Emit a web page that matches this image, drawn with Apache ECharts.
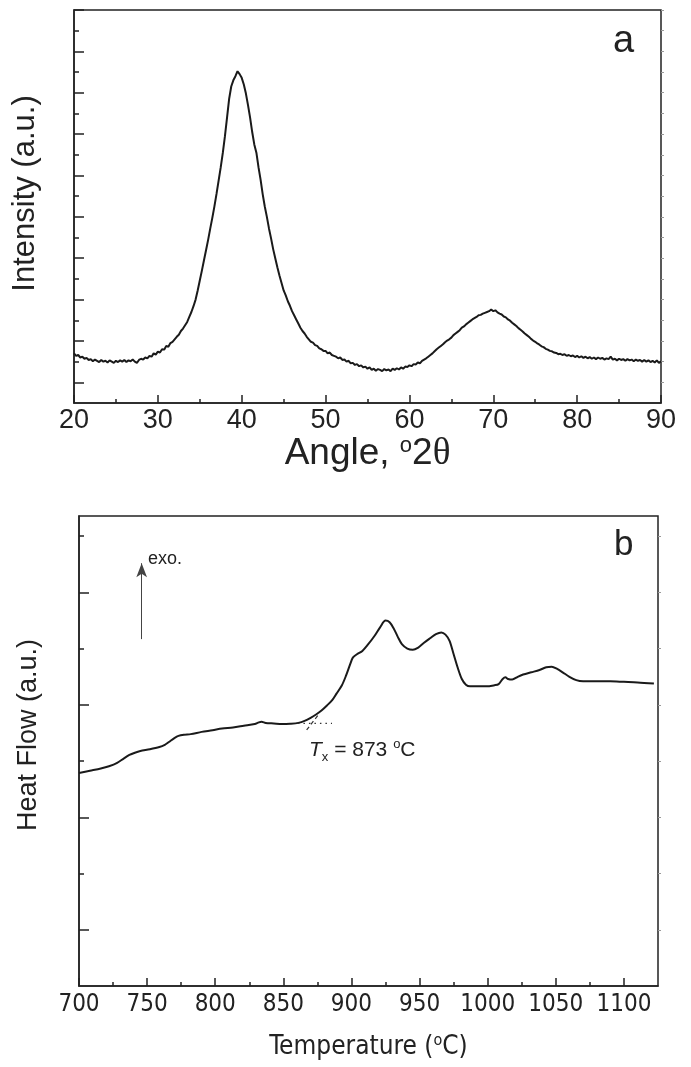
<!DOCTYPE html>
<html><head><meta charset="utf-8">
<script src="https://cdn.jsdelivr.net/npm/echarts@6/dist/echarts.min.js"></script>
<style>html,body{margin:0;padding:0;background:#fff}#c{width:691px;height:1067px}</style>
</head><body><div id="c"></div>
<script>
// ---------- panel a : XRD ----------
const angleTicks = [20, 30, 40, 50, 60, 70, 80, 90];
const angleMinorTicks = [25, 35, 45, 55, 65, 75, 85];
const intensityMajorTicks = [0, 1, 2, 3, 4, 5, 6, 7, 8, 9];
const intensityMinorTicks = [0.5, 1.5, 2.5, 3.5, 4.5, 5.5, 6.5, 7.5, 8.5];
const xrdPoints = [
[20.00,0.70],[20.25,0.64],[20.50,0.66],[20.75,0.60],[21.00,0.62],[21.25,0.57],[21.50,0.59],[21.75,0.54],
[22.00,0.56],[22.25,0.51],[22.50,0.55],[22.75,0.52],[23.00,0.49],[23.25,0.54],[23.50,0.50],[23.75,0.52],
[24.00,0.48],[24.25,0.53],[24.50,0.50],[24.75,0.47],[25.00,0.52],[25.25,0.49],[25.50,0.53],[25.75,0.50],
[26.00,0.54],[26.25,0.49],[26.50,0.53],[26.75,0.51],[27.00,0.55],[27.25,0.50],[27.50,0.47],[27.75,0.54],
[28.00,0.57],[28.25,0.55],[28.50,0.60],[28.75,0.58],[29.00,0.64],[29.25,0.62],[29.50,0.70],[29.75,0.67],
[30.00,0.74],[30.25,0.72],[30.50,0.80],[30.75,0.79],[31.00,0.88],[31.25,0.86],[31.50,0.95],[31.75,0.98],
[32.00,1.04],[32.25,1.10],[32.50,1.15],[32.75,1.24],[33.00,1.30],[33.25,1.38],[33.50,1.46],[33.75,1.58],
[34.00,1.70],[34.25,1.84],[34.50,2.00],[34.75,2.22],[35.00,2.46],[35.25,2.70],[35.50,2.95],[35.75,3.20],
[36.00,3.45],[36.25,3.72],[36.50,3.98],[36.75,4.26],[37.00,4.56],[37.25,4.88],[37.50,5.20],[37.75,5.55],
[38.00,5.95],[38.25,6.40],[38.50,6.85],[38.75,7.15],[39.00,7.30],[39.25,7.40],[39.50,7.52],[39.75,7.45],
[40.00,7.36],[40.25,7.20],[40.50,6.98],[40.75,6.70],[41.00,6.40],[41.25,6.05],[41.50,5.75],[41.75,5.55],
[42.00,5.20],[42.25,4.90],[42.50,4.55],[42.75,4.25],[43.00,4.00],[43.25,3.72],[43.50,3.48],[43.75,3.22],
[44.00,3.00],[44.25,2.78],[44.50,2.58],[44.75,2.40],[45.00,2.22],[45.25,2.10],[45.50,1.96],[45.75,1.85],
[46.00,1.72],[46.25,1.62],[46.50,1.52],[46.75,1.42],[47.00,1.32],[47.25,1.24],[47.50,1.18],[47.75,1.10],
[48.00,1.04],[48.25,0.98],[48.50,0.96],[48.75,0.90],[49.00,0.88],[49.25,0.82],[49.50,0.80],[49.75,0.76],
[50.00,0.76],[50.25,0.70],[50.50,0.72],[50.75,0.66],[51.00,0.64],[51.25,0.62],[51.50,0.58],[51.75,0.60],
[52.00,0.54],[52.25,0.55],[52.50,0.50],[52.75,0.52],[53.00,0.46],[53.25,0.47],[53.50,0.42],[53.75,0.44],
[54.00,0.39],[54.25,0.41],[54.50,0.36],[54.75,0.38],[55.00,0.33],[55.25,0.36],[55.50,0.30],[55.75,0.33],
[56.00,0.28],[56.25,0.32],[56.50,0.30],[56.75,0.27],[57.00,0.32],[57.25,0.29],[57.50,0.31],[57.75,0.27],
[58.00,0.33],[58.25,0.30],[58.50,0.34],[58.75,0.31],[59.00,0.36],[59.25,0.33],[59.50,0.38],[59.75,0.37],
[60.00,0.41],[60.25,0.39],[60.50,0.44],[60.75,0.43],[61.00,0.48],[61.25,0.46],[61.50,0.52],[61.75,0.55],
[62.00,0.58],[62.25,0.62],[62.50,0.66],[62.75,0.70],[63.00,0.75],[63.25,0.80],[63.50,0.84],[63.75,0.88],
[64.00,0.92],[64.25,0.97],[64.50,1.01],[64.75,1.04],[65.00,1.08],[65.25,1.14],[65.50,1.18],[65.75,1.22],
[66.00,1.26],[66.25,1.32],[66.50,1.35],[66.75,1.40],[67.00,1.44],[67.25,1.48],[67.50,1.52],[67.75,1.55],
[68.00,1.58],[68.25,1.62],[68.50,1.63],[68.75,1.66],[69.00,1.68],[69.25,1.70],[69.50,1.72],[69.75,1.76],
[70.00,1.72],[70.25,1.74],[70.50,1.69],[70.75,1.66],[71.00,1.64],[71.25,1.59],[71.50,1.57],[71.75,1.52],
[72.00,1.49],[72.25,1.44],[72.50,1.40],[72.75,1.36],[73.00,1.31],[73.25,1.27],[73.50,1.23],[73.75,1.18],
[74.00,1.14],[74.25,1.10],[74.50,1.05],[74.75,1.01],[75.00,0.98],[75.25,0.94],[75.50,0.91],[75.75,0.87],
[76.00,0.85],[76.25,0.81],[76.50,0.79],[76.75,0.76],[77.00,0.75],[77.25,0.72],[77.50,0.71],[77.75,0.68],
[78.00,0.69],[78.25,0.66],[78.50,0.68],[78.75,0.64],[79.00,0.66],[79.25,0.63],[79.50,0.65],[79.75,0.61],
[80.00,0.64],[80.25,0.60],[80.50,0.63],[80.75,0.59],[81.00,0.62],[81.25,0.58],[81.50,0.61],[81.75,0.57],
[82.00,0.60],[82.25,0.56],[82.50,0.60],[82.75,0.57],[83.00,0.59],[83.25,0.55],[83.50,0.58],[83.75,0.56],
[84.00,0.62],[84.25,0.55],[84.50,0.57],[84.75,0.53],[85.00,0.57],[85.25,0.54],[85.50,0.56],[85.75,0.52],
[86.00,0.56],[86.25,0.53],[86.50,0.55],[86.75,0.51],[87.00,0.55],[87.25,0.52],[87.50,0.54],[87.75,0.50],
[88.00,0.54],[88.25,0.50],[88.50,0.53],[88.75,0.49],[89.00,0.52],[89.25,0.48],[89.50,0.53],[89.75,0.47],
[90.00,0.51]
];

// ---------- panel b : DSC ----------
const tempTicks = [700, 750, 800, 850, 900, 950, 1000, 1050, 1100];
const tempMinorTicks = [725, 775, 825, 875, 925, 975, 1025, 1075];
const heatMajorTicks = [1, 3, 5, 7];
const heatMinorTicks = [2, 4, 6, 8];
const dscPoints = [
[700,3.79],[708,3.83],[716,3.87],[722,3.91],[728,3.97],[733,4.05],[737,4.11],[741,4.15],[745,4.18],
[752,4.21],[759,4.25],[763,4.29],[766,4.34],[770,4.41],[773,4.45],[777,4.47],[782,4.48],[790,4.52],
[798,4.55],[805,4.58],[813,4.60],[821,4.63],[829,4.66],[832,4.69],[834,4.70],[837,4.68],[843,4.67],
[849,4.66],[855,4.665],[861,4.68],[866,4.72],[870,4.77],[874,4.83],[878,4.90],[882,4.99],[886,5.09],
[889,5.20],[893,5.35],[896,5.52],[899,5.72],[901,5.84],[904,5.90],[908,5.96],[912,6.07],[917,6.23],
[921,6.38],[925,6.50],[928,6.47],[931,6.36],[934,6.21],[937,6.08],[941,6.00],[945,5.98],[949,6.02],
[953,6.10],[958,6.19],[962,6.26],[966,6.29],[969,6.25],[972,6.14],[975,5.90],[978,5.66],[981,5.46],
[984,5.36],[987,5.33],[993,5.33],[999,5.33],[1005,5.35],[1008,5.37],[1011,5.46],[1013,5.49],[1015,5.46],
[1018,5.45],[1022,5.50],[1026,5.54],[1032,5.58],[1038,5.62],[1043,5.67],[1047,5.68],[1051,5.64],
[1055,5.58],[1060,5.50],[1065,5.44],[1070,5.42],[1080,5.42],[1090,5.42],[1100,5.41],[1110,5.40],[1122,5.38]
];
const onsetBaseline = [[860.7, 4.67], [885.7, 4.67]];
const onsetTangent = [[867.1, 4.555], [875.6, 4.82]];
const exoArrow = [[746, 6.17], [746, 7.52]];

const FONT = 'Liberation Sans, Arial, Helvetica, sans-serif';
const NARROW = 'Liberation Sans Narrow, Arial Narrow, DejaVu Sans Condensed, Liberation Sans, sans-serif';
const INK = '#222';

function xAxes(grid, min, max, major, minor, name, nameGap, labelStyle, nameStyle) {
  return [{
    gridIndex: grid, type: 'value', min: min, max: max, position: 'bottom',
    axisLine: { show: true, onZero: false, lineStyle: { color: INK, width: 1.5 } },
    axisTick: { show: true, inside: true, length: 8, customValues: major, lineStyle: { color: INK, width: 1.5 } },
    axisLabel: Object.assign({ show: true, customValues: major, color: INK, formatter: function (v) { return String(v); } }, labelStyle),
    splitLine: { show: false },
    name: name, nameLocation: 'middle', nameGap: nameGap, nameTextStyle: nameStyle
  }, {
    gridIndex: grid, type: 'value', min: min, max: max, position: 'bottom',
    axisLine: { show: false, onZero: false },
    axisTick: { show: true, inside: true, length: 4, customValues: minor, lineStyle: { color: INK, width: 1.5 } },
    axisLabel: { show: false }, splitLine: { show: false }
  }];
}
function yAxes(grid, min, max, major, minor, name, nameGap, nameStyle) {
  return [{
    gridIndex: grid, type: 'value', min: min, max: max, position: 'left',
    axisLine: { show: true, onZero: false, lineStyle: { color: INK, width: 1.5 } },
    axisTick: { show: true, inside: true, length: 10, customValues: major, lineStyle: { color: INK, width: 1.5 } },
    axisLabel: { show: false }, splitLine: { show: false },
    name: name, nameLocation: 'middle', nameGap: nameGap, nameRotate: 90, nameTextStyle: nameStyle
  }, {
    gridIndex: grid, type: 'value', min: min, max: max, position: 'left',
    axisLine: { show: false, onZero: false },
    axisTick: { show: true, inside: true, length: 5, customValues: minor, lineStyle: { color: INK, width: 1.5 } },
    axisLabel: { show: false }, splitLine: { show: false }
  }, {
    gridIndex: grid, type: 'value', min: min, max: max, position: 'right',
    axisLine: { show: false, onZero: false },
    axisTick: { show: true, inside: false, length: 3, customValues: major.concat(minor), lineStyle: { color: '#999', width: 1 } },
    axisLabel: { show: false }, splitLine: { show: false }
  }];
}

const titleA = { fontSize: 37, fontFamily: FONT, color: INK, verticalAlign: 'top',
  rich: { sup: { fontSize: 22, fontFamily: FONT, color: INK, padding: [0, 0, 16, 0] },
          th: { fontSize: 37, fontFamily: 'Liberation Serif, DejaVu Serif, serif', color: INK } } };
const titleAy = { fontSize: 31, fontFamily: FONT, color: INK, padding: [0, 0, 0, 26] };
const titleB = { fontSize: 26, fontFamily: NARROW, color: INK,
  rich: { sup: { fontSize: 16, fontFamily: NARROW, color: INK, padding: [0, 0, 12, 0] } } };
const titleBy = { fontSize: 27, fontFamily: FONT, color: INK, padding: [0, 0, 0, 32] };

const chart = echarts.init(document.getElementById('c'), null, { renderer: 'canvas' });
chart.setOption({
  animation: false,
  backgroundColor: '#fff',
  grid: [
    { left: 74, right: 30, top: 10, height: 393, show: true, borderColor: INK, borderWidth: 1.5, backgroundColor: 'transparent' },
    { left: 79, right: 33, top: 516, height: 470, show: true, borderColor: INK, borderWidth: 1.5, backgroundColor: 'transparent' }
  ],
  xAxis: [].concat(
    xAxes(0, 20, 90, angleTicks, angleMinorTicks, 'Angle, {sup|o}2{th|θ}', 30,
      { fontSize: 27, fontFamily: FONT, margin: 4 }, titleA),
    xAxes(1, 700, 1125, tempTicks, tempMinorTicks, 'Temperature ({sup|o}C)', 47,
      { fontSize: 24, fontFamily: NARROW, margin: 7 }, titleB)
  ),
  yAxis: [].concat(
    yAxes(0, -0.5, 9, intensityMajorTicks, intensityMinorTicks, 'Intensity (a.u.)', 33, titleAy),
    yAxes(1, 0, 8.36, heatMajorTicks, heatMinorTicks, 'Heat Flow (a.u.)', 37, titleBy)
  ),
  series: [
    { type: 'line', xAxisIndex: 0, yAxisIndex: 0, data: xrdPoints, showSymbol: false,
      lineStyle: { color: '#1a1a1a', width: 2 }, silent: true },
    { type: 'line', xAxisIndex: 2, yAxisIndex: 3, data: dscPoints, showSymbol: false, smooth: 0.3,
      lineStyle: { color: '#1a1a1a', width: 2 }, silent: true,
      markLine: { silent: true, animation: false, label: { show: false },
        lineStyle: { color: '#444', width: 1, type: 'solid' },
        symbol: ['none', 'arrow'], symbolSize: [8, 14],
        data: [[{ coord: exoArrow[0] }, { coord: exoArrow[1] }]] } },
    { type: 'line', xAxisIndex: 2, yAxisIndex: 3, data: onsetBaseline, showSymbol: false,
      lineStyle: { color: '#333', width: 1.2, type: [1.5, 4] }, silent: true },
    { type: 'line', xAxisIndex: 2, yAxisIndex: 3, data: onsetTangent, showSymbol: false,
      lineStyle: { color: '#333', width: 1.2, type: [4, 3] }, silent: true }
  ],
  graphic: [
    { type: 'text', left: 613, top: 23, style: { text: 'a', font: '38px ' + FONT, fill: INK } },
    { type: 'text', left: 614, top: 528, style: { text: 'b', font: '35px ' + FONT, fill: INK } },
    { type: 'text', left: 148, top: 550, style: { text: 'exo.', font: '18px ' + FONT, fill: INK } },
    { type: 'text', left: 309, top: 738, style: {
        text: '{i|T}{sub|x}{n| = 873 }{sup|o}{n|C}',
        rich: {
          i: { fontSize: 21, fontStyle: 'italic', fontFamily: FONT, fill: INK },
          sub: { fontSize: 13, fontFamily: FONT, fill: INK, padding: [14, 0, 0, 0] },
          n: { fontSize: 21, fontFamily: FONT, fill: INK },
          sup: { fontSize: 13, fontFamily: FONT, fill: INK, padding: [0, 0, 12, 0] }
        } } }
  ]
});
</script></body></html>
